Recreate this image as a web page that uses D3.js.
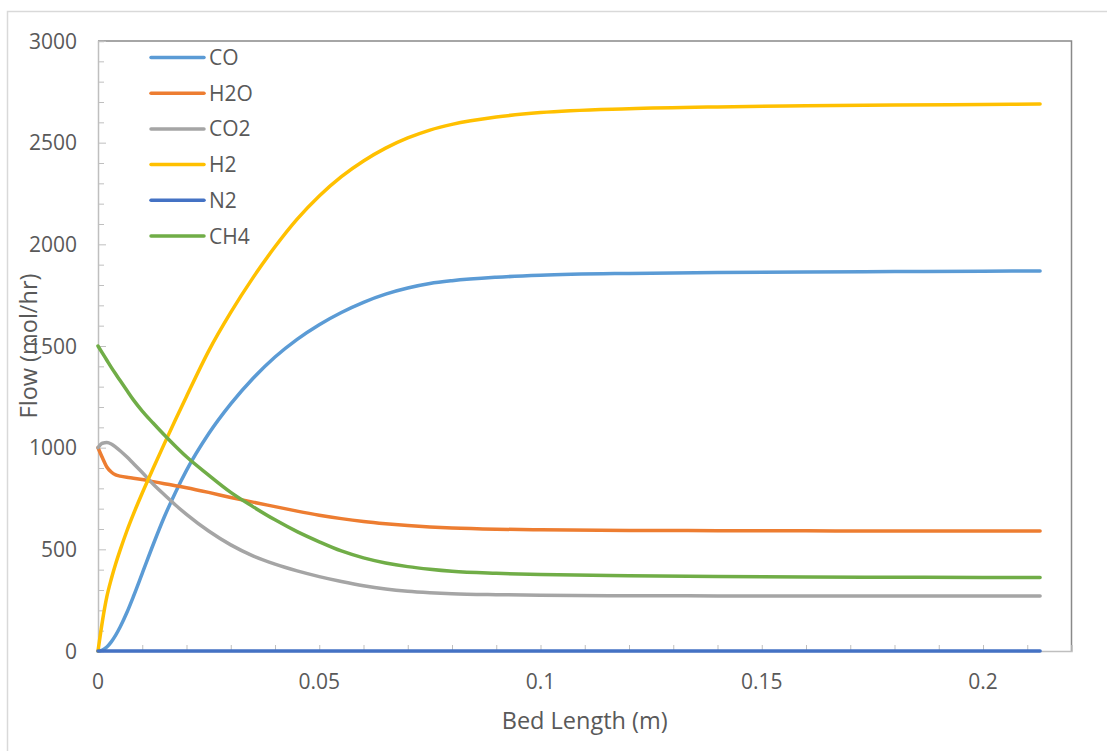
<!DOCTYPE html>
<html>
<head>
<meta charset="utf-8">
<script src="https://cdn.jsdelivr.net/npm/d3@7"></script>
<style>
    body { margin: 0; background: #fff; }
    text { font-family: "Open Sans", sans-serif; fill: #595959; }
</style>
</head>
<body>
<svg id="chart" width="1107" height="751"></svg>
<script>
// Data
// ---------------
var bedLength = [0, 0.001, 0.002, 0.003, 0.004, 0.005, 0.0065, 0.008, 0.01, 0.0125, 0.015, 0.0175,
    0.02, 0.025, 0.03, 0.035, 0.04, 0.045, 0.05, 0.055, 0.06, 0.065, 0.07, 0.075, 0.08, 0.09,
    0.1, 0.12, 0.14, 0.16, 0.18, 0.2, 0.2129];

var flowCO = [0, 5, 20, 45, 78, 118, 188, 268, 382, 525, 660, 780,
    888, 1068, 1215, 1340, 1446, 1533, 1605, 1665, 1715, 1755, 1785, 1807, 1821, 1838,
    1848, 1857, 1861, 1864, 1866, 1868, 1869];
var flowH2O = [1000, 950, 905, 880, 866, 860, 854, 850, 843, 833, 823, 813,
    803, 780, 755, 732, 710, 688, 668, 651, 637, 626, 617, 610, 605, 599,
    596, 593, 592, 591, 590, 590, 590];
var flowCO2 = [1000, 1022, 1025, 1018, 1003, 985, 955, 922, 878, 820, 768, 718,
    672, 590, 522, 468, 427, 394, 366, 342, 321, 305, 294, 287, 282, 277,
    274, 272, 271, 270, 270, 270, 270];
var flowH2 = [0, 147, 267, 354, 429, 496, 589, 673, 777, 900, 1020, 1137,
    1252, 1475, 1665, 1835, 1988, 2124, 2238, 2333, 2410, 2473, 2523, 2562, 2590, 2626,
    2648, 2667, 2676, 2681, 2685, 2688, 2690];
var flowN2 = bedLength.map(() => 0);
var flowCH4 = [1500, 1465, 1430, 1395, 1362, 1330, 1282, 1235, 1180, 1120, 1062, 1007,
    955, 865, 780, 710, 645, 587, 537, 492, 458, 433, 415, 402, 392, 382,
    376, 370, 366, 364, 363, 362, 362];

var seriesNames = ["CO", "H2O", "CO2", "H2", "N2", "CH4"];
var seriesValues = [flowCO, flowH2O, flowCO2, flowH2, flowN2, flowCH4];
var seriesColors = ["#5b9bd5", "#ed7d31", "#a5a5a5", "#ffc000", "#4472c4", "#70ad47"];

var xTicks = [0, 0.05, 0.1, 0.15, 0.2];
var yTicks = [0, 500, 1000, 1500, 2000, 2500, 3000];

// Dimension
// ---------------
var svg = d3.select("#chart");
var plot = { left: 98, top: 41, right: 1071.5, bottom: 651 };
var fontSize = 21;
var titleSize = 23.5;
var lineWidth = 3.5;

var x = d3.scaleLinear().domain([0, 0.22]).range([plot.left, plot.right]);
var y = d3.scaleLinear().domain([0, 3000]).range([plot.bottom, plot.top]);

// Chart frame
svg.append("rect")
    .attr("x", 7.5)
    .attr("y", 11.5)
    .attr("width", 1120)
    .attr("height", 760)
    .style("fill", "none")
    .style("stroke", "#d9d9d9")
    .style("stroke-width", 1.5);

// Plot area border (top and right)
svg.append("path")
    .attr("d", `M${plot.left},${plot.top}H${plot.right}V${plot.bottom}`)
    .style("fill", "none")
    .style("stroke", "#898989")
    .style("stroke-width", 1.5);

// Y axis
// ---------------
var yAxis = svg.append("g")
    .attr("transform", `translate(${plot.left},0)`)
    .call(d3.axisRight(y).tickValues(d3.range(0, 3001, 100)).tickSize(6).tickFormat(""));
yAxis.select(".domain").style("stroke", "#bfbfbf").style("stroke-width", 1.5);
yAxis.selectAll(".tick line")
    .style("stroke", "#bfbfbf")
    .attr("x2", d => d % 500 === 0 ? 8 : 6);

svg.append("g").selectAll("text")
    .data(yTicks)
    .enter().append("text")
    .text(d => d)
    .attr("x", 77)
    .attr("y", d => y(d))
    .attr("dy", "0.36em")
    .attr("font-size", fontSize)
    .attr("text-anchor", "end");

// X axis
// ---------------
var xAxis = svg.append("g")
    .attr("transform", `translate(0,${plot.bottom})`)
    .call(d3.axisTop(x).tickValues(d3.range(0, 22).map(i => i / 100)).tickSize(6).tickFormat(""));
xAxis.select(".domain").style("stroke", "#bfbfbf").style("stroke-width", 1.5);
xAxis.selectAll(".tick line").style("stroke", "#bfbfbf");

svg.append("g").selectAll("text")
    .data(xTicks)
    .enter().append("text")
    .text(d => d)
    .attr("x", d => x(d))
    .attr("y", 689)
    .attr("font-size", fontSize)
    .attr("text-anchor", "middle");

// Axis titles
svg.append("text")
    .text("Bed Length (m)")
    .attr("x", (plot.left + plot.right) / 2)
    .attr("y", 729)
    .attr("font-size", titleSize)
    .attr("text-anchor", "middle");
svg.append("text")
    .text("Flow (mol/hr)")
    .attr("transform", "translate(37,346) rotate(-90)")
    .attr("font-size", titleSize)
    .attr("text-anchor", "middle");

// Series lines
// ---------------
var line = d3.line()
    .x((d, i) => x(bedLength[i]))
    .y(d => y(d))
    .curve(d3.curveMonotoneX);

svg.append("g").selectAll("path")
    .data(seriesValues)
    .enter().append("path")
    .attr("d", d => line(d))
    .style("fill", "none")
    .style("stroke", (d, i) => seriesColors[i])
    .style("stroke-width", lineWidth)
    .style("stroke-linecap", "round")
    .style("stroke-linejoin", "round");

// Legend
// ---------------
var legend = svg.append("g")
    .selectAll("g")
    .data(seriesNames)
    .enter().append("g")
    .attr("transform", (d, i) => `translate(151, ${57.5 + i * 35.7})`);
legend.append("line")
    .attr("x1", 0)
    .attr("x2", 53)
    .style("stroke", (d, i) => seriesColors[i])
    .style("stroke-width", lineWidth)
    .style("stroke-linecap", "round");
legend.append("text")
    .text(d => d)
    .attr("x", 58)
    .attr("dy", "0.36em")
    .attr("font-size", fontSize);
</script>
</body>
</html>
